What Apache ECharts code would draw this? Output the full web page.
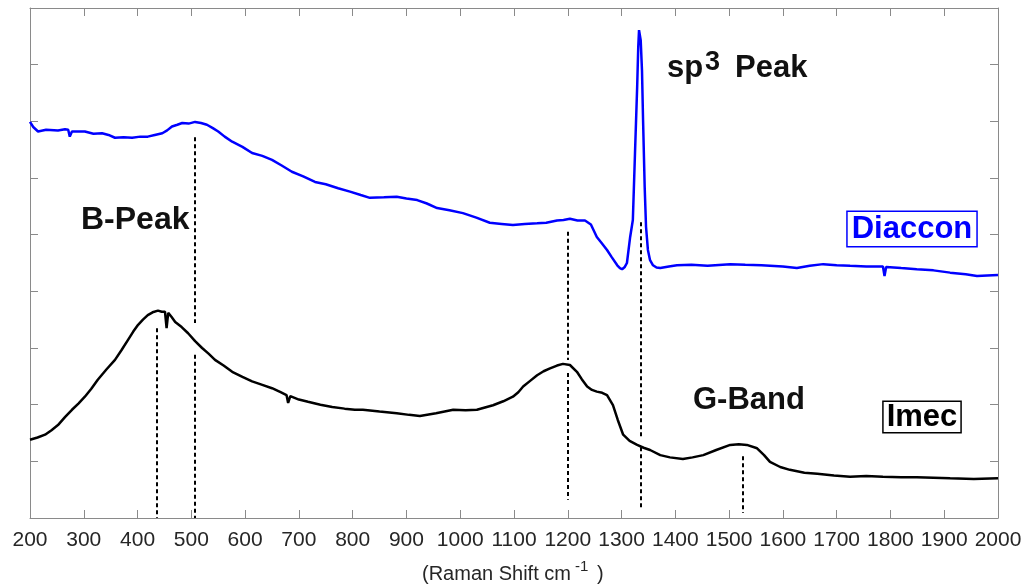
<!DOCTYPE html>
<html>
<head>
<meta charset="utf-8">
<script src="https://cdn.jsdelivr.net/npm/echarts@6/dist/echarts.min.js"></script>
<style>html,body{margin:0;padding:0;background:#fff}#c{width:1027px;height:587px}</style>
</head>
<body>
<div id="c"></div>
<script>
// Raman shift (cm^-1) and intensity (arb. units) — Diaccon (blue)
var diacconX = [200,206,215,230,252,265,271,274,278,302,318,334,346,358,374,390,405,419,432,446,455,464,474,483,495,507,518,529,540,550,562,576,595,613,632,650,668,687,708,730,750,773,795,815,832,858,882,900,920,938,957,980,1005,1030,1055,1077,1098,1120,1143,1160,1180,1192,1204,1218,1232,1243,1254,1264,1273,1282,1292,1297,1301,1306,1310,1316,1321,1325,1329,1331,1332.5,1335.6,1338,1340,1343,1345.5,1349,1353,1358.5,1365,1372,1388,1403,1430,1460,1502,1530,1560,1600,1626,1650,1675,1700,1725,1755,1786,1789,1792,1820,1849,1880,1911,1940,1961,1980,2000];
var diacconY = [6.99,6.90,6.82,6.85,6.84,6.86,6.85,6.73,6.82,6.82,6.78,6.79,6.76,6.71,6.72,6.71,6.73,6.73,6.76,6.79,6.84,6.91,6.94,6.97,6.96,6.99,6.97,6.94,6.88,6.82,6.73,6.64,6.55,6.44,6.39,6.32,6.22,6.11,6.03,5.93,5.89,5.82,5.76,5.70,5.65,5.66,5.67,5.64,5.61,5.55,5.47,5.43,5.38,5.30,5.21,5.19,5.17,5.19,5.20,5.21,5.25,5.26,5.28,5.25,5.25,5.18,4.96,4.84,4.73,4.60,4.46,4.41,4.39,4.43,4.50,4.96,5.26,6.44,7.60,8.30,8.61,8.43,7.90,7.02,5.84,5.14,4.73,4.55,4.46,4.42,4.41,4.44,4.46,4.47,4.45,4.48,4.47,4.46,4.44,4.41,4.45,4.48,4.46,4.45,4.44,4.44,4.27,4.43,4.41,4.39,4.37,4.33,4.30,4.27,4.28,4.29];
// Imec (black)
var imecX = [200,214,228,240,252,265,278,290,302,314,326,342,358,370,382,392,401,410,419,428,438,445,451,454,457,463,470,482,494,507,520,532,544,560,576,595,613,632,650,666,677,680,684,700,717,740,762,785,804,819,850,882,905,925,955,987,1010,1031,1046,1061,1080,1098,1108,1117,1130,1143,1155,1167,1180,1191,1204,1217,1226,1236,1245,1254,1264,1273,1284,1293,1303,1315,1329,1341,1353,1372,1390,1414,1432,1452,1476,1502,1518,1533,1552,1565,1576,1595,1613,1640,1664,1695,1725,1755,1786,1820,1849,1880,1911,1955,2000];
var imecY = [1.38,1.42,1.47,1.55,1.64,1.78,1.91,2.02,2.14,2.28,2.44,2.62,2.79,2.96,3.14,3.29,3.41,3.50,3.58,3.63,3.66,3.64,3.64,3.35,3.62,3.55,3.46,3.37,3.26,3.12,3.00,2.90,2.79,2.69,2.58,2.49,2.41,2.35,2.29,2.22,2.17,2.03,2.15,2.09,2.05,2.00,1.96,1.93,1.91,1.91,1.88,1.85,1.82,1.80,1.85,1.91,1.90,1.91,1.95,1.99,2.06,2.14,2.22,2.32,2.42,2.52,2.59,2.64,2.69,2.72,2.70,2.58,2.45,2.32,2.26,2.23,2.21,2.17,1.99,1.73,1.47,1.36,1.29,1.24,1.20,1.11,1.07,1.04,1.07,1.11,1.20,1.29,1.30,1.29,1.23,1.11,0.99,0.90,0.85,0.80,0.78,0.75,0.73,0.74,0.73,0.72,0.72,0.71,0.70,0.69,0.70];
// Peak marker lines: x position, from y, to y
var markerX    = [507, 507, 436, 1200, 1200, 1335, 1335, 1526];
var markerFrom = [6.72, 2.88, 3.35, 5.05, 2.56, 5.22, 1.25, 1.09];
var markerTo   = [3.44, 0.00, 0.00, 2.79, 0.32, 1.43, 0.18, 0.09];
var xTicks = [200,300,400,500,600,700,800,900,1000,1100,1200,1300,1400,1500,1600,1700,1800,1900,2000];

function zip(a, b) { return a.map(function (v, i) { return [v, b[i]]; }); }
var markData = markerX.map(function (x, i) {
  return [{ coord: [x, markerFrom[i]] }, { coord: [x, markerTo[i]] }];
});

var FONT = "'Liberation Sans', Arial, Helvetica, sans-serif";
var axisGray = '#8a8a8a';
var chart = echarts.init(document.getElementById('c'), null, { renderer: 'canvas' });

function xAxisCfg(pos, labels) {
  return {
    type: 'value', position: pos, min: 200, max: 2000, interval: 100,
    axisLine: { show: true, onZero: false, lineStyle: { color: axisGray, width: 1 } },
    axisTick: { show: true, inside: true, length: 8, lineStyle: { color: axisGray } },
    splitLine: { show: false },
    axisLabel: labels ? { show: true, color: '#262626', fontSize: 21, fontFamily: FONT, margin: 12,
      formatter: function (v) { return xTicks.indexOf(v) >= 0 ? String(v) : ''; } } : { show: false }
  };
}
function yAxisCfg(pos) {
  return {
    type: 'value', position: pos, min: 0, max: 9, interval: 1,
    axisLine: { show: true, onZero: false, lineStyle: { color: axisGray, width: 1 } },
    axisTick: { show: true, inside: true, length: 8, lineStyle: { color: axisGray } },
    splitLine: { show: false }, axisLabel: { show: false }
  };
}

chart.setOption({
  animation: false,
  backgroundColor: '#fff',
  grid: { left: 30, right: 29, top: 8, bottom: 69, containLabel: false },
  xAxis: [xAxisCfg('bottom', true), xAxisCfg('top', false)],
  yAxis: [yAxisCfg('left'), yAxisCfg('right')],
  series: [
    { name: 'Diaccon', type: 'line', data: zip(diacconX, diacconY), showSymbol: false, symbol: 'none',
      lineStyle: { color: '#0000ff', width: 2.5 }, z: 3 },
    { name: 'Imec', type: 'line', data: zip(imecX, imecY), showSymbol: false, symbol: 'none',
      lineStyle: { color: '#000000', width: 2.5 }, z: 3 },
    { name: 'markers', type: 'line', data: [], z: 2,
      markLine: { silent: true, symbol: ['none', 'none'], animation: false,
        label: { show: false },
        lineStyle: { color: '#000', width: 2, type: [4, 3] },
        emphasis: { disabled: true },
        data: markData } }
  ],
  graphic: [
    { type: 'text', x: 81, y: 220, style: { text: 'B-Peak', fill: '#111', font: 'bold 32px ' + FONT, verticalAlign: 'middle' } },
    { type: 'text', x: 667, y: 68, style: { text: 'sp', fill: '#111', font: 'bold 31px ' + FONT, verticalAlign: 'middle' } },
    { type: 'text', x: 705, y: 63, style: { text: '3', fill: '#111', font: 'bold 27px ' + FONT, verticalAlign: 'middle' } },
    { type: 'text', x: 735, y: 68, style: { text: 'Peak', fill: '#111', font: 'bold 31px ' + FONT, verticalAlign: 'middle' } },
    { type: 'text', x: 693, y: 400, style: { text: 'G-Band', fill: '#111', font: 'bold 31px ' + FONT, verticalAlign: 'middle' } },
    { type: 'text', x: 912, y: 229, style: { text: 'Diaccon', fill: '#0000ff', font: 'bold 31px ' + FONT,
        align: 'center', verticalAlign: 'middle', lineHeight: 32, padding: [1, 4, 1, 4],
        borderColor: '#0000ff', borderWidth: 1.5, backgroundColor: '#fff' } },
    { type: 'text', x: 922, y: 417, style: { text: 'Imec', fill: '#000', font: 'bold 31px ' + FONT,
        align: 'center', verticalAlign: 'middle', lineHeight: 30, padding: [0, 3, 0, 3],
        borderColor: '#000', borderWidth: 1.5, backgroundColor: '#fff' } },
    { type: 'text', x: 422, y: 574, style: { text: '(Raman Shift cm', fill: '#262626', font: '20px ' + FONT, verticalAlign: 'middle' } },
    { type: 'text', x: 575, y: 567, style: { text: '-1', fill: '#262626', font: '15px ' + FONT, verticalAlign: 'middle' } },
    { type: 'text', x: 597, y: 574, style: { text: ')', fill: '#262626', font: '20px ' + FONT, verticalAlign: 'middle' } }
  ]
});
</script>
</body>
</html>
